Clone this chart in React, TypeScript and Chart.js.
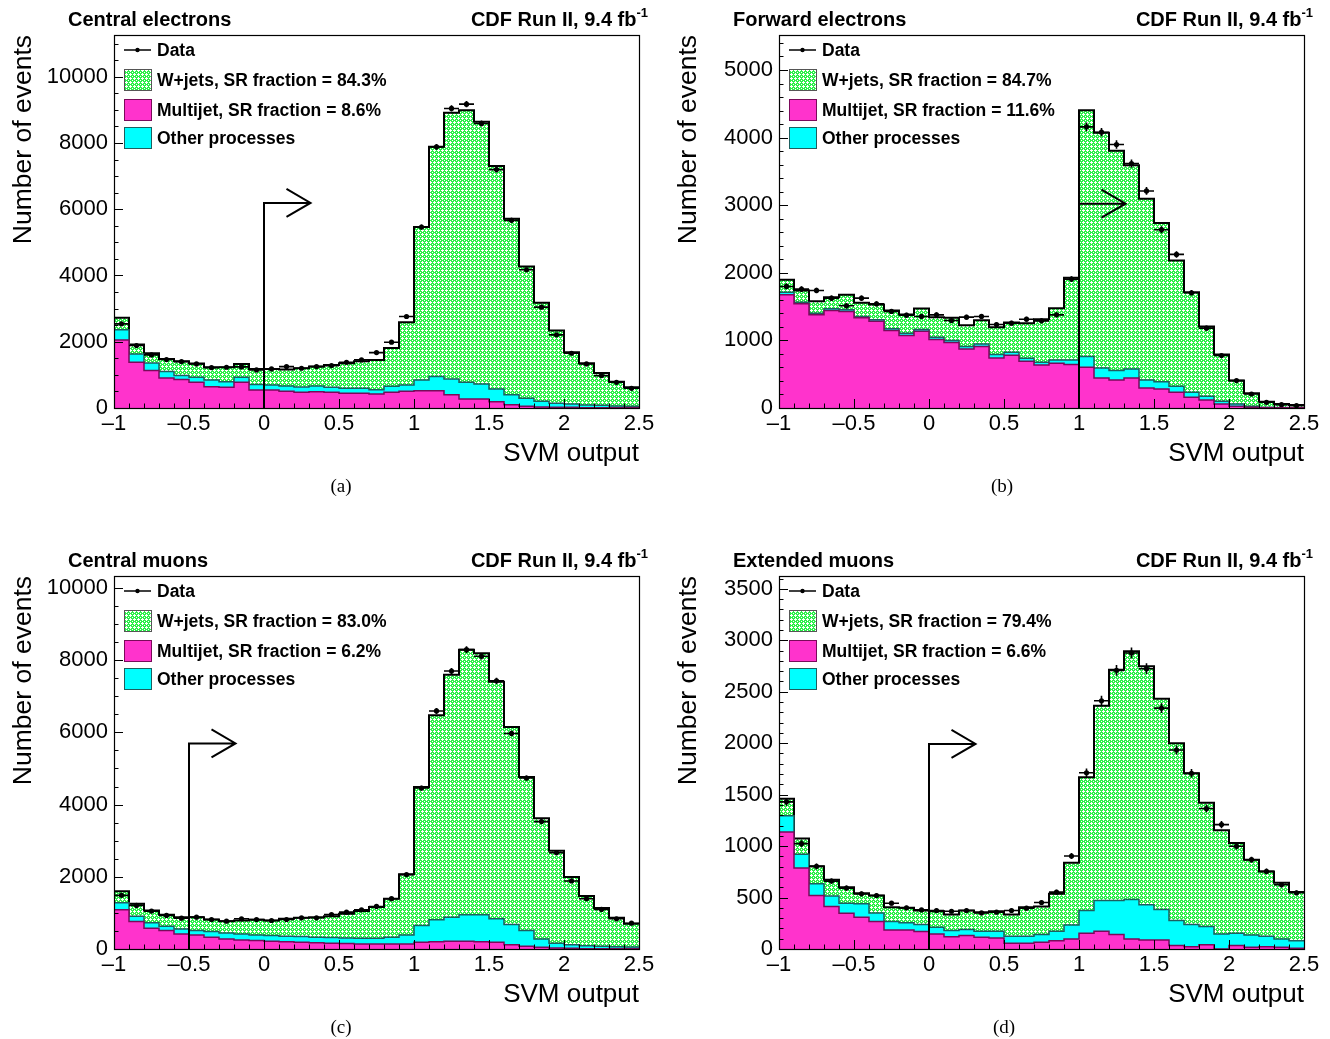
import React, { useEffect, useRef } from 'react';
import { Chart, registerables } from 'chart.js';

Chart.register(...registerables);

// ---------------- data ----------------
const binLow = [-1.0, -0.9, -0.8, -0.7, -0.6, -0.5, -0.4, -0.3, -0.2, -0.1, 0.0, 0.1, 0.2, 0.3, 0.4, 0.5, 0.6, 0.7, 0.8, 0.9, 1.0, 1.1, 1.2, 1.3, 1.4, 1.5, 1.6, 1.7, 1.8, 1.9, 2.0, 2.1, 2.2, 2.3, 2.4];
const BIN_W = 0.1;
const xTicks = [-1, -0.5, 0, 0.5, 1, 1.5, 2, 2.5];

// (a) Central electrons
const dataA = [2540, 1885, 1603, 1462, 1401, 1330, 1220, 1230, 1240, 1149, 1180, 1250, 1200, 1250, 1280, 1381, 1452, 1673, 1986, 2762, 5463, 7883, 9042, 9173, 8588, 7197, 5665, 4173, 3044, 2208, 1653, 1330, 978, 776, 595];
const multijetA = [2056, 1381, 1129, 907, 857, 776, 645, 625, 776, 544, 544, 504, 474, 494, 474, 444, 444, 423, 474, 504, 524, 524, 403, 272, 272, 192, 101, 50, 30, 20, 20, 10, 5, 5, 5];
const otherA = [303, 252, 232, 192, 121, 151, 202, 171, 151, 162, 152, 161, 161, 171, 151, 151, 151, 131, 181, 192, 323, 424, 474, 504, 454, 383, 302, 242, 172, 121, 101, 81, 76, 55, 45];
const wjetsA = [363, 282, 292, 383, 433, 414, 383, 434, 403, 474, 484, 494, 565, 585, 675, 755, 816, 898, 1159, 1895, 4616, 6935, 8034, 8215, 7912, 6733, 5312, 3982, 2973, 2198, 1562, 1260, 977, 736, 575];
const yTicksA = [0, 2000, 4000, 6000, 8000, 10000];

// (b) Forward electrons
const dataB = [1798, 1759, 1739, 1625, 1512, 1625, 1541, 1428, 1373, 1354, 1378, 1294, 1344, 1354, 1235, 1255, 1314, 1289, 1378, 1907, 4159, 4080, 3898, 3616, 3211, 2638, 2272, 1704, 1181, 776, 405, 207, 84, 49, 35];
const multijetB = [1675, 1541, 1378, 1442, 1428, 1334, 1284, 1146, 1072, 1136, 1013, 968, 874, 909, 741, 780, 692, 637, 662, 642, 603, 445, 415, 445, 296, 282, 232, 158, 119, 59, 25, 10, 5, 3, 2];
const otherB = [39, 25, 25, 25, 24, 20, 20, 25, 35, 25, 34, 30, 35, 39, 49, 45, 44, 40, 49, 69, 158, 148, 138, 133, 119, 108, 89, 74, 54, 40, 34, 15, 7, 5, 3];
const wjetsB = [183, 173, 178, 173, 223, 202, 227, 271, 276, 311, 297, 336, 316, 351, 405, 440, 519, 637, 766, 1216, 3645, 3478, 3251, 3013, 2682, 2347, 1862, 1482, 1032, 691, 346, 192, 82, 51, 39];
const yTicksB = [0, 1000, 2000, 3000, 4000, 5000];

// (c) Central muons
const dataC = [1486, 1207, 1049, 929, 854, 882, 817, 771, 836, 817, 789, 817, 864, 864, 956, 1021, 1086, 1179, 1393, 2061, 4457, 6592, 7697, 8291, 8106, 7428, 5970, 4735, 3528, 2665, 1885, 1393, 1096, 836, 715];
const multijetC = [1086, 761, 576, 511, 418, 390, 325, 279, 251, 232, 214, 204, 186, 176, 158, 149, 139, 139, 139, 139, 186, 204, 214, 214, 204, 186, 121, 74, 46, 28, 19, 9, 9, 5, 5];
const otherC = [195, 149, 148, 120, 139, 121, 158, 167, 167, 158, 157, 149, 158, 149, 158, 157, 158, 158, 186, 251, 464, 604, 668, 733, 743, 650, 557, 437, 233, 130, 102, 84, 65, 60, 51];
const wjetsC = [316, 343, 344, 316, 325, 371, 334, 325, 371, 418, 418, 483, 520, 557, 594, 669, 752, 864, 1068, 1681, 3835, 5664, 6713, 7344, 7242, 6564, 5469, 4252, 3342, 2562, 1875, 1374, 1059, 799, 640];
const yTicksC = [0, 2000, 4000, 6000, 8000, 10000];

// (d) Extended muons
const dataD = [1430, 1024, 803, 660, 592, 536, 520, 445, 400, 380, 374, 367, 374, 351, 358, 374, 397, 452, 553, 904, 1713, 2412, 2708, 2877, 2724, 2341, 1934, 1707, 1365, 1209, 998, 868, 754, 624, 546];
const multijetD = [1138, 787, 520, 413, 348, 309, 267, 185, 185, 169, 146, 120, 130, 114, 107, 55, 55, 65, 81, 98, 153, 172, 140, 98, 88, 88, 33, 23, 42, 0, 33, 16, 23, 16, 7];
const otherD = [156, 133, 114, 101, 97, 130, 84, 82, 69, 68, 65, 59, 59, 58, 65, 69, 69, 75, 91, 136, 221, 299, 331, 383, 341, 296, 243, 214, 176, 146, 120, 121, 101, 82, 74];
const wjetsD = [166, 153, 169, 159, 156, 104, 169, 139, 146, 137, 156, 156, 185, 186, 195, 211, 282, 273, 364, 605, 1294, 1892, 2244, 2412, 2318, 2048, 1723, 1470, 1203, 1008, 878, 731, 630, 546, 472];
const yTicksD = [0, 500, 1000, 1500, 2000, 2500, 3000, 3500];

const panels = [
  { id: 'a', title: 'Central electrons', wFrac: '84.3%', mFrac: '8.6%', data: dataA, multijet: multijetA, other: otherA, wjets: wjetsA, yMax: 11260, yTicks: yTicksA, yMinor: 500, cut: 0, arrowY: 6190, caption: '(a)' },
  { id: 'b', title: 'Forward electrons', wFrac: '84.7%', mFrac: '11.6%', data: dataB, multijet: multijetB, other: otherB, wjets: wjetsB, yMax: 5518, yTicks: yTicksB, yMinor: 200, cut: 1, arrowY: 3023, caption: '(b)' },
  { id: 'c', title: 'Central muons', wFrac: '83.0%', mFrac: '6.2%', data: dataC, multijet: multijetC, other: otherC, wjets: wjetsC, yMax: 10330, yTicks: yTicksC, yMinor: 500, cut: -0.5, arrowY: 5692, caption: '(c)' },
  { id: 'd', title: 'Extended muons', wFrac: '79.4%', mFrac: '6.6%', data: dataD, multijet: multijetD, other: otherD, wjets: wjetsD, yMax: 3625, yTicks: yTicksD, yMinor: 100, cut: 0, arrowY: 1993, caption: '(d)' },
];

// ---------------- styling ----------------
const GREEN = '#2bef4a';
const MAGENTA = '#ff33cc';
const CYAN = '#00ffff';
const SANS = '"Liberation Sans", Arial, Helvetica, sans-serif';
const W = 665;
const FRAME_RIGHT = 639;
const FRAME_TOP = 35;
const FRAME_BOTTOM = 408;
const Y_AXIS_W = 114;

function makePattern(ctx: CanvasRenderingContext2D) {
  const c = document.createElement('canvas');
  c.width = 4;
  c.height = 4;
  const g = c.getContext('2d')!;
  g.fillStyle = GREEN;
  g.fillRect(0, 0, 4, 4);
  g.fillStyle = '#ffffff';
  g.fillRect(2, 1, 1, 3);
  g.fillRect(1, 2, 3, 1);
  g.fillRect(0, 0, 1, 1);
  return ctx.createPattern(c, 'repeat')!;
}

function stepPoints(vals: number[]) {
  const pts = vals.map((v, i) => ({ x: binLow[i], y: v }));
  pts.push({ x: binLow[vals.length - 1] + BIN_W, y: vals[vals.length - 1] });
  return pts;
}

function fmtX(v: number) {
  return v < 0 ? '\u2013' + String(Math.abs(v)) : String(v);
}

function Panel({ p, left, top, height, capX }: any) {
  const ref = useRef<HTMLCanvasElement>(null);
  useEffect(() => {
    const canvas = ref.current!;
    const ctx0 = canvas.getContext('2d')!;
    const pattern = makePattern(ctx0);
    const mjCum = p.multijet.map((v: number) => v);
    const moCum = p.multijet.map((v: number, i: number) => v + p.other[i]);
    const totCum = moCum.map((v: number, i: number) => v + p.wjets[i]);

    const overlay = {
      id: 'overlay_' + p.id,
      afterDatasetsDraw(chart: any) {
        const { ctx, chartArea: ca, scales } = chart;
        const x = scales.x;
        const y = scales.y;
        ctx.save();
        ctx.beginPath();
        ctx.rect(ca.left, ca.top, ca.right - ca.left, ca.bottom - ca.top);
        ctx.clip();
        ctx.strokeStyle = '#000';
        ctx.lineWidth = 1.6;
        p.data.forEach((v: number, i: number) => {
          const x0 = x.getPixelForValue(binLow[i]);
          const x1 = x.getPixelForValue(binLow[i] + BIN_W);
          const xc = (x0 + x1) / 2;
          const yc = y.getPixelForValue(v);
          const e = Math.sqrt(v);
          ctx.beginPath();
          ctx.moveTo(x0, yc);
          ctx.lineTo(x1, yc);
          ctx.moveTo(xc, y.getPixelForValue(v + e));
          ctx.lineTo(xc, y.getPixelForValue(v - e));
          ctx.stroke();
        });
        // arrow
        const ax = x.getPixelForValue(p.cut);
        const ay0 = y.getPixelForValue(0);
        const ay = y.getPixelForValue(p.arrowY);
        const tip = x.getPixelForValue(p.cut + 0.31);
        ctx.lineWidth = 2;
        ctx.beginPath();
        ctx.moveTo(ax, ay0);
        ctx.lineTo(ax, ay);
        ctx.lineTo(tip, ay);
        ctx.moveTo(tip - 24, ay - 14);
        ctx.lineTo(tip, ay);
        ctx.lineTo(tip - 24, ay + 14);
        ctx.stroke();
        ctx.restore();
      },
      afterDraw(chart: any) {
        const { ctx, chartArea: ca, scales } = chart;
        const x = scales.x;
        const y = scales.y;
        ctx.save();
        // ticks (inside)
        ctx.strokeStyle = '#000';
        ctx.lineWidth = 1;
        ctx.beginPath();
        const yMajor = p.yTicks[1] - p.yTicks[0];
        for (let k = 0; k * p.yMinor <= p.yMax; k++) {
          const v = k * p.yMinor;
          const py = Math.round(y.getPixelForValue(v)) + 0.5;
          const len = Math.abs(v / yMajor - Math.round(v / yMajor)) < 1e-6 ? 9 : 4.5;
          ctx.moveTo(ca.left, py);
          ctx.lineTo(ca.left + len, py);
        }
        for (let k = 0; k <= binLow.length; k++) {
          const v = -1 + k * 0.1;
          const px = Math.round(x.getPixelForValue(v)) + 0.5;
          const len = k % 5 === 0 ? 9 : 4.5;
          ctx.moveTo(px, ca.bottom);
          ctx.lineTo(px, ca.bottom - len);
        }
        ctx.stroke();
        // frame
        ctx.lineWidth = 1.2;
        ctx.strokeRect(ca.left + 0.5, ca.top + 0.5, ca.right - ca.left, ca.bottom - ca.top);

        // legend
        const lx = ca.left + 10;
        const tx = ca.left + 43;
        const rows = [ca.top + 15, ca.top + 45, ca.top + 75, ca.top + 103];
        ctx.lineWidth = 1.5;
        ctx.beginPath();
        ctx.moveTo(lx, rows[0]);
        ctx.lineTo(lx + 27, rows[0]);
        ctx.stroke();
        ctx.fillStyle = '#000';
        ctx.beginPath();
        ctx.arc(lx + 13.5, rows[0], 2.2, 0, Math.PI * 2);
        ctx.fill();
        const boxes = [
          { fill: pattern, stroke: '#555' },
          { fill: MAGENTA, stroke: '#7a0a5a' },
          { fill: CYAN, stroke: '#1d5f5f' },
        ];
        boxes.forEach((b, i) => {
          const cy = rows[i + 1];
          ctx.fillStyle = b.fill;
          ctx.fillRect(lx, cy - 10.5, 27, 21);
          ctx.strokeStyle = b.stroke;
          ctx.lineWidth = 1;
          ctx.strokeRect(lx + 0.5, cy - 10.5, 27, 21);
        });
        ctx.fillStyle = '#000';
        ctx.font = 'bold 17.5px ' + SANS;
        ctx.textAlign = 'left';
        ctx.textBaseline = 'middle';
        const labels = ['Data', 'W+jets, SR fraction = ' + p.wFrac, 'Multijet, SR fraction = ' + p.mFrac, 'Other processes'];
        labels.forEach((t, i) => ctx.fillText(t, tx, rows[i] + 1));

        // titles
        ctx.font = 'bold 20px ' + SANS;
        ctx.fillText(p.title, ca.left - 46, ca.top - 15);
        ctx.font = 'bold 13px ' + SANS;
        const sup = '-1';
        const supW = ctx.measureText(sup).width;
        const supRight = ca.right + 9;
        ctx.textAlign = 'right';
        ctx.fillText(sup, supRight, ca.top - 22);
        ctx.font = 'bold 20px ' + SANS;
        ctx.fillText('CDF Run II, 9.4 fb', supRight - supW, ca.top - 15);

        // axis titles
        ctx.font = '26px ' + SANS;
        ctx.textAlign = 'right';
        ctx.textBaseline = 'alphabetic';
        ctx.fillText('SVM output', ca.right, ca.bottom + 53);
        ctx.save();
        ctx.translate(31, ca.top);
        ctx.rotate(-Math.PI / 2);
        ctx.textAlign = 'right';
        ctx.font = '26.5px ' + SANS;
        ctx.fillText('Number of events', 0, 0);
        ctx.restore();

        // caption
        ctx.font = '19px "Liberation Serif", "DejaVu Serif", serif';
        ctx.textAlign = 'center';
        ctx.textBaseline = 'middle';
        ctx.fillText(p.caption, capX, ca.bottom + 79);
        ctx.restore();
      },
    };

    const chart = new Chart(canvas, {
      type: 'line',
      data: {
        datasets: [
          {
            label: 'Data',
            data: p.data.map((v: number, i: number) => ({ x: binLow[i] + BIN_W / 2, y: v })),
            showLine: false,
            pointRadius: 2.6,
            pointBackgroundColor: '#000',
            pointBorderWidth: 0,
            order: 0,
          } as any,
          {
            label: 'Multijet',
            data: stepPoints(mjCum),
            stepped: 'before',
            fill: 'origin',
            backgroundColor: MAGENTA,
            borderColor: '#7a0a5a',
            borderWidth: 1.5,
            pointRadius: 0,
            order: 1,
          },
          {
            label: 'Other processes',
            data: stepPoints(moCum),
            stepped: 'before',
            fill: 'origin',
            backgroundColor: CYAN,
            borderColor: '#1d5f5f',
            borderWidth: 1.5,
            pointRadius: 0,
            order: 2,
          },
          {
            label: 'W+jets',
            data: stepPoints(totCum),
            stepped: 'before',
            fill: 'origin',
            backgroundColor: pattern,
            borderColor: '#000',
            borderWidth: 2,
            pointRadius: 0,
            order: 3,
          },
        ],
      },
      options: {
        animation: false,
        responsive: false,
        maintainAspectRatio: false,
        devicePixelRatio: 1,
        layout: { padding: { left: 0, right: W - FRAME_RIGHT, top: FRAME_TOP, bottom: 0 } },
        plugins: { legend: { display: false }, tooltip: { enabled: false } },
        scales: {
          x: {
            type: 'linear',
            min: -1,
            max: 2.5,
            grid: { display: false, drawTicks: false },
            border: { display: false },
            afterBuildTicks: (s: any) => { s.ticks = xTicks.map((v) => ({ value: v })); },
            afterFit: (s: any) => { s.height = height - FRAME_BOTTOM; },
            ticks: {
              autoSkip: false,
              maxRotation: 0,
              minRotation: 0,
              padding: 3,
              color: '#000',
              font: { family: SANS, size: 22 },
              callback: (v: any) => fmtX(Number(v)),
            },
          },
          y: {
            type: 'linear',
            min: 0,
            max: p.yMax,
            grid: { display: false, drawTicks: false },
            border: { display: false },
            afterBuildTicks: (s: any) => { s.ticks = p.yTicks.map((v: number) => ({ value: v })); },
            afterFit: (s: any) => { s.width = Y_AXIS_W; },
            ticks: {
              padding: 6,
              color: '#000',
              font: { family: SANS, size: 22 },
              callback: (v: any) => String(v),
            },
          },
        },
      },
      plugins: [overlay],
    });
    return () => chart.destroy();
  }, [p, height, capX]);

  return (
    <canvas
      ref={ref}
      width={W}
      height={height}
      style={{ position: 'absolute', left, top, width: W, height, display: 'block' }}
    />
  );
}

export default function App() {
  useEffect(() => {
    document.body.style.margin = '0';
    document.body.style.background = '#fff';
  }, []);
  const capXs = [341, 337, 341, 339];
  return (
    <div style={{ position: 'relative', width: 1330, height: 1039, overflow: 'hidden', background: '#fff' }}>
      {panels.map((p, i) => (
        <Panel key={p.id} p={p} left={(i % 2) * 665} top={i < 2 ? 0 : 541} height={i < 2 ? 541 : 498} capX={capXs[i]} />
      ))}
    </div>
  );
}
